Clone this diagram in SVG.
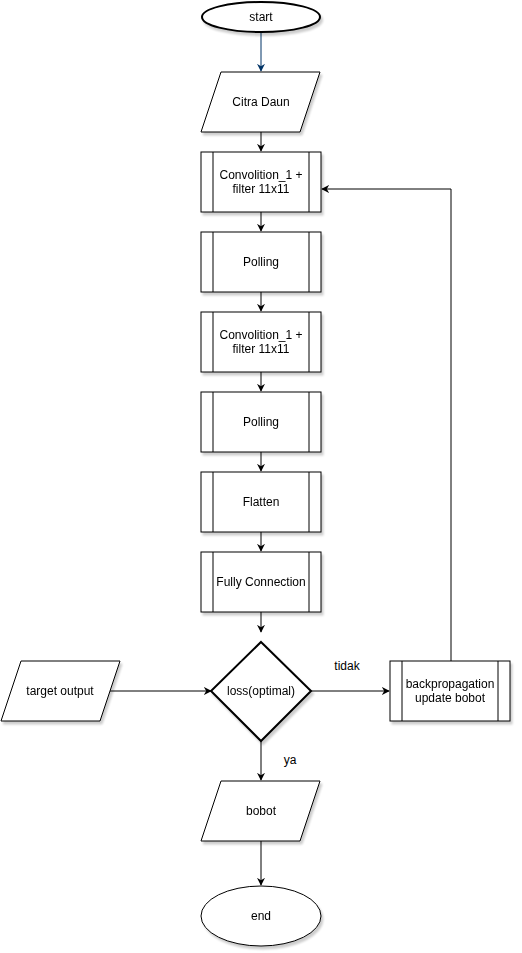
<svg xmlns="http://www.w3.org/2000/svg" width="522" height="953" viewBox="0 0 522 953">
<style>
.s{fill:#fff;stroke:#000;stroke-width:1}
.t{stroke-width:2}
.e{fill:none;stroke:#000;stroke-width:1}
.l{font-family:"Liberation Sans",Arial,sans-serif;font-size:12px;fill:#000;text-anchor:middle}
</style>
<defs>
<filter id="sh" x="-20%" y="-20%" width="150%" height="150%">
<feGaussianBlur in="SourceAlpha" stdDeviation="1.2"/>
<feOffset dx="2" dy="3" result="o"/>
<feComponentTransfer><feFuncA type="linear" slope="0.2"/></feComponentTransfer>
<feMerge><feMergeNode/><feMergeNode in="SourceGraphic"/></feMerge>
</filter>
<marker id="a" viewBox="0 0 10 10" refX="9" refY="5" markerWidth="8" markerHeight="8" markerUnits="userSpaceOnUse" orient="auto">
<path d="M0,0 L10,5 L0,10 L3,5 z" fill="#000"/>
</marker>
<marker id="ab" viewBox="0 0 10 10" refX="9" refY="5" markerWidth="8" markerHeight="8" markerUnits="userSpaceOnUse" orient="auto">
<path d="M0,0 L10,5 L0,10 L3,5 z" fill="#003366"/>
</marker>
</defs>
<g id="connectors">
<path d="M261,32 L261,71" fill="none" stroke="#003366" stroke-width="1" marker-end="url(#ab)"/>
<path class="e" d="M261,132 L261,151" marker-end="url(#a)"/>
<path class="e" d="M261,212 L261,231" marker-end="url(#a)"/>
<path class="e" d="M261,292 L261,311" marker-end="url(#a)"/>
<path class="e" d="M261,372 L261,391" marker-end="url(#a)"/>
<path class="e" d="M261,452 L261,471" marker-end="url(#a)"/>
<path class="e" d="M261,532 L261,551" marker-end="url(#a)"/>
<path class="e" d="M261,612 L261,632" marker-end="url(#a)"/>
<path class="e" d="M110,691 L211,691" marker-end="url(#a)"/>
<path class="e" d="M311,691 L389,691" marker-end="url(#a)"/>
<path class="e" d="M451,661 L451,189 L322,189" marker-end="url(#a)"/>
<path class="e" d="M261,741 L261,780" marker-end="url(#a)"/>
<path class="e" d="M261,841 L261,885" marker-end="url(#a)"/>
<text class="l" x="347" y="670">tidak</text>
<text class="l" x="290" y="764">ya</text>
</g>
<g id="start" filter="url(#sh)">
<ellipse class="s t" cx="261" cy="17" rx="59" ry="15"/>
<text class="l" x="261" y="21">start</text>
</g>
<g id="citra" filter="url(#sh)">
<path class="s" d="M221,72 L320,72 L300,132 L201,132 Z"/>
<text class="l" x="261" y="106">Citra Daun</text>
</g>
<g id="conv1" filter="url(#sh)">
<rect class="s" x="201" y="152" width="120" height="60"/>
<path class="e" d="M213,152 V212 M309,152 V212"/>
<text class="l" x="261" y="179">Convolition_1 +</text>
<text class="l" x="261" y="193">filter 11x11</text>
</g>
<g id="pool1" filter="url(#sh)">
<rect class="s" x="201" y="232" width="120" height="60"/>
<path class="e" d="M213,232 V292 M309,232 V292"/>
<text class="l" x="261" y="266">Polling</text>
</g>
<g id="conv2" filter="url(#sh)">
<rect class="s" x="201" y="312" width="120" height="60"/>
<path class="e" d="M213,312 V372 M309,312 V372"/>
<text class="l" x="261" y="339">Convolition_1 +</text>
<text class="l" x="261" y="353">filter 11x11</text>
</g>
<g id="pool2" filter="url(#sh)">
<rect class="s" x="201" y="392" width="120" height="60"/>
<path class="e" d="M213,392 V452 M309,392 V452"/>
<text class="l" x="261" y="426">Polling</text>
</g>
<g id="flatten" filter="url(#sh)">
<rect class="s" x="201" y="472" width="120" height="60"/>
<path class="e" d="M213,472 V532 M309,472 V532"/>
<text class="l" x="261" y="506">Flatten</text>
</g>
<g id="fully" filter="url(#sh)">
<rect class="s" x="201" y="552" width="120" height="60"/>
<path class="e" d="M213,552 V612 M309,552 V612"/>
<text class="l" x="261" y="586">Fully Connection</text>
</g>
<g id="target" filter="url(#sh)">
<path class="s" d="M21,661 L120,661 L100,721 L1,721 Z"/>
<text class="l" x="60" y="695">target output</text>
</g>
<g id="loss" filter="url(#sh)">
<path class="s t" d="M261,642 L311,691 L261,741 L211,691 Z"/>
<text class="l" x="261" y="695">loss(optimal)</text>
</g>
<g id="backprop" filter="url(#sh)">
<rect class="s" x="390" y="661" width="120" height="60"/>
<path class="e" d="M402,661 V721 M498,661 V721"/>
<text class="l" x="450" y="688">backpropagation</text>
<text class="l" x="450" y="702">update bobot</text>
</g>
<g id="bobot" filter="url(#sh)">
<path class="s" d="M221,781 L320,781 L300,841 L201,841 Z"/>
<text class="l" x="261" y="815">bobot</text>
</g>
<g id="end" filter="url(#sh)">
<ellipse class="s" cx="261" cy="916" rx="60" ry="30"/>
<text class="l" x="261" y="920">end</text>
</g>
</svg>
